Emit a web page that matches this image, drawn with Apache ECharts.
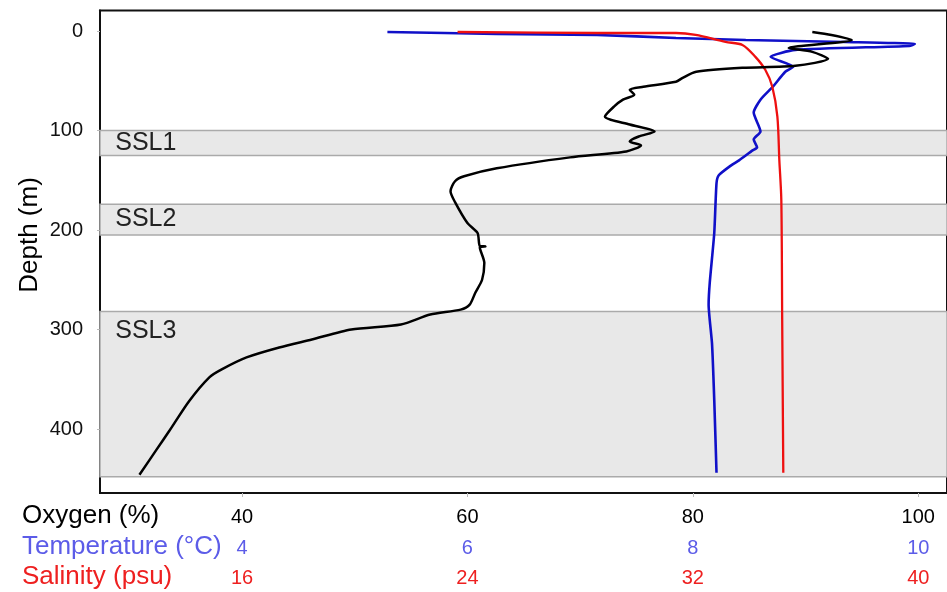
<!DOCTYPE html>
<html><head><meta charset="utf-8">
<script src="https://cdn.jsdelivr.net/npm/echarts@6/dist/echarts.min.js"></script>
<style>html,body{margin:0;padding:0;background:#fff}#c{width:947px;height:592px}</style>
</head><body><div id="c"></div>
<script>
// Oxygen profile: [oxygen %, depth m]
const oxygen = [
[90.6,1],[92.3,4],[94.1,9],[88.5,17],[90.6,21],[92.0,28],[89.1,35],[84.4,37],[80.3,41],[79.1,47],[78.5,51],
[75.6,56],[74.4,59],[74.8,64],[73.8,69],[73.0,76],[72.2,86],[74.4,94],[76.6,101],[75.2,106],[74.4,111],
[75.4,115],[74.1,121],[69.1,127],[62.6,138],[59.7,146],[58.9,151],[58.5,161],[58.9,172],[60.0,193],
[60.9,203],[61.1,216],[61.6,216.5],[61.1,217.5],[61.5,233],[61.3,250],[60.7,263],[60.2,275],[59.4,280],[56.7,285],
[54.1,295],[49.7,300],[46.2,310],[43.3,318],[40.4,328],[38.2,340],[37.1,348],[35.3,372],[33.6,401],
[32.4,421],[30.9,446]
];
// Temperature profile: [°C, depth m]
const temperature = [
[5.29,1],[6.26,3],[7.15,4],[7.85,7],[8.47,9],[9.35,11],[9.97,13],[9.92,15],[8.91,19],[8.69,26],[8.89,36],
[8.82,41],[8.71,56],[8.60,69],[8.54,82],[8.60,101],[8.54,109],[8.57,117],[8.53,120],[8.41,130],[8.34,135],
[8.23,145],[8.21,153],[8.19,203],[8.15,253],[8.14,275],[8.17,314],[8.19,371],[8.21,444]
];
// Salinity profile: [psu, depth m]
const salinity = [
[23.65,1],[28.6,2],[31.4,2],[32.1,4],[33.16,11],[33.76,14],[34.22,26],[34.57,39],[34.82,56],[35.0,86],
[35.07,130],[35.14,170],[35.17,287],[35.21,444]
];
// Scattering layers: [name, top depth, bottom depth]
const layers = [["SSL1",100,125],["SSL2",174,205],["SSL3",282,448]];
const depthTicks = [0,100,200,300,400];
const oxyTicks = [40,60,80,100];
const tempTicks = [4,6,8,10];
const salTicks = [16,24,32,40];

const FONT = 'Liberation Sans, Arial, sans-serif';
const chart = echarts.init(document.getElementById('c'));
function xa(min,max,ticks,color,offset,showLine){
  return {type:'value',position:'bottom',min:min,max:max,offset:offset,
    axisLine:{show:showLine,onZero:false,lineStyle:{color:'#111',width:2}},
    axisTick:{show:showLine,customValues:ticks,length:4,lineStyle:{color:'#bbb',width:1}},
    splitLine:{show:false},
    axisLabel:{customValues:ticks,color:color,fontSize:20,fontFamily:FONT,margin:14}};
}
chart.setOption({
  animation:false,
  grid:{left:100,right:-6,top:10.5,bottom:99,show:true,borderColor:'#111',borderWidth:2,backgroundColor:'transparent'},
  xAxis:[
    xa(27.4,102.55,oxyTicks,'#000',0,true),
    xa(2.74,10.255,tempTicks,'#5c5ce8',31,false),
    xa(10.96,41.02,salTicks,'#ee2020',61,false)
  ],
  yAxis:{type:'value',inverse:true,min:-20.6,max:464.3,
    axisLine:{show:true,onZero:false,lineStyle:{color:'#111',width:2}},
    axisTick:{customValues:depthTicks,length:3,lineStyle:{color:'#bbb'}},
    splitLine:{show:false},
    axisLabel:{customValues:depthTicks,color:'#111',fontSize:20,fontFamily:FONT,margin:17}},
  graphic:[
    {type:'text',left:22,top:503,style:{text:'Oxygen (%)',fill:'#000',font:'26px '+FONT}},
    {type:'text',left:22,top:534,style:{text:'Temperature (°C)',fill:'#5c5ce8',font:'26px '+FONT}},
    {type:'text',left:22,top:564,style:{text:'Salinity (psu)',fill:'#ee2020',font:'26px '+FONT}},
    {type:'text',x:30,y:235,rotation:Math.PI/2,style:{text:'Depth (m)',fill:'#000',font:'26px '+FONT,textAlign:'center',textVerticalAlign:'middle'}}
  ],
  series:[
    {type:'line',xAxisIndex:0,data:[],z:1,silent:true,
      markArea:{silent:true,
        itemStyle:{color:'#e8e8e8',borderColor:'#aaaaaa',borderWidth:1.5},
        data:layers.map((l,i)=>[{yAxis:l[1],name:l[0],
            label:{show:true,position:i===2?'insideTopLeft':'insideLeft',distance:i===2?8:16,offset:i===2?[8,0]:[0,0],
              formatter:l[0],color:'#222',fontSize:25,fontFamily:FONT}},
          {yAxis:l[2]}])}},
    {type:'line',xAxisIndex:0,data:oxygen,symbol:'none',z:4,smooth:0.25,lineStyle:{color:'#000',width:2.5}},
    {type:'line',xAxisIndex:1,data:temperature,symbol:'none',z:3,smooth:0.2,lineStyle:{color:'#1010c8',width:2.6}},
    {type:'line',xAxisIndex:2,data:salinity,symbol:'none',z:3,smooth:0.3,lineStyle:{color:'#ee1010',width:2.3}}
  ]
});
</script></body></html>
